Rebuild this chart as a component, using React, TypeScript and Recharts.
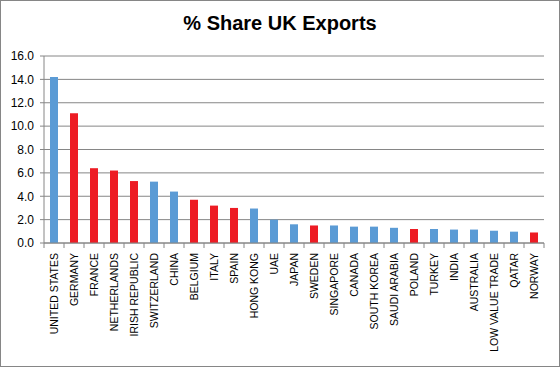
import React from 'react';
import { BarChart, Bar, XAxis, YAxis, CartesianGrid, Cell } from 'recharts';

const countries = [
  'UNITED STATES', 'GERMANY', 'FRANCE', 'NETHERLANDS', 'IRISH REPUBLIC', 'SWITZERLAND', 'CHINA',
  'BELGIUM', 'ITALY', 'SPAIN', 'HONG KONG', 'UAE', 'JAPAN', 'SWEDEN', 'SINGAPORE', 'CANADA',
  'SOUTH KOREA', 'SAUDI ARABIA', 'POLAND', 'TURKEY', 'INDIA', 'AUSTRALIA', 'LOW VALUE TRADE',
  'QATAR', 'NORWAY',
];
const shares = [
  14.2, 11.1, 6.4, 6.2, 5.3, 5.25, 4.4, 3.7, 3.2, 3.0, 2.95, 2.0, 1.6, 1.5, 1.5, 1.4,
  1.4, 1.3, 1.2, 1.2, 1.15, 1.15, 1.05, 0.97, 0.9,
];
const highlighted = [
  false, true, true, true, true, false, false, true, true, true, false, false, false, true, false,
  false, false, false, true, false, false, false, false, false, true,
];
const yTicks = [0, 2, 4, 6, 8, 10, 12, 14, 16];

const BLUE = '#5b9bd5';
const RED = '#ed1c24';
const GRID = '#868686';
const FONT = '"Liberation Sans", Arial, sans-serif';

const data = countries.map((name, i) => ({ name, value: shares[i], eu: highlighted[i] }));

const CountryTick = (props: any) => {
  const { x, y, payload, index } = props;
  const half = payload.offset ?? 10;
  const axisY = y - 8;
  return (
    <g>
      <line x1={x - half} y1={axisY} x2={x - half} y2={axisY + 5} stroke={GRID} />
      {index === countries.length - 1 && (
        <line x1={x + half} y1={axisY} x2={x + half} y2={axisY + 5} stroke={GRID} />
      )}
      <text
        transform={`translate(${x},${axisY + 10}) rotate(-90)`}
        textAnchor="end"
        dy="0.35em"
        fontSize={10.5}
        fontFamily={FONT}
        fill="#000"
      >
        {payload.value}
      </text>
    </g>
  );
};

const App: React.FC = () => {
  return (
    <div
      style={{
        position: 'absolute',
        left: 0,
        top: 0,
        width: 560,
        height: 367,
        boxSizing: 'border-box',
        border: '1px solid #868686',
        background: '#fff',
      }}
    >
      <div
        style={{
          position: 'absolute',
          left: 0,
          top: 11,
          width: 558,
          textAlign: 'center',
          fontFamily: FONT,
          fontWeight: 'bold',
          fontSize: 20,
          color: '#000',
        }}
      >
        % Share UK Exports
      </div>
      <BarChart
        width={558}
        height={365}
        data={data}
        margin={{ top: 55, right: 15, left: 0, bottom: 0 }}
        barCategoryGap={6}
      >
        <CartesianGrid vertical={false} stroke={GRID} strokeDasharray="" />
        <XAxis
          dataKey="name"
          interval={0}
          height={123}
          axisLine={{ stroke: GRID }}
          tickLine={false}
          tick={<CountryTick />}
        />
        <YAxis
          width={43}
          domain={[0, 16]}
          ticks={yTicks}
          interval={0}
          tickFormatter={(v: number) => v.toFixed(1)}
          axisLine={{ stroke: GRID }}
          tickLine={{ stroke: GRID }}
          tickSize={4}
          tickMargin={6}
          tick={{ fontSize: 12, fontFamily: FONT, fill: '#000' }}
        />
        <Bar dataKey="value" barSize={8} isAnimationActive={false}>
          {data.map((d) => (
            <Cell key={d.name} fill={d.eu ? RED : BLUE} />
          ))}
        </Bar>
      </BarChart>
    </div>
  );
};

export default App;
